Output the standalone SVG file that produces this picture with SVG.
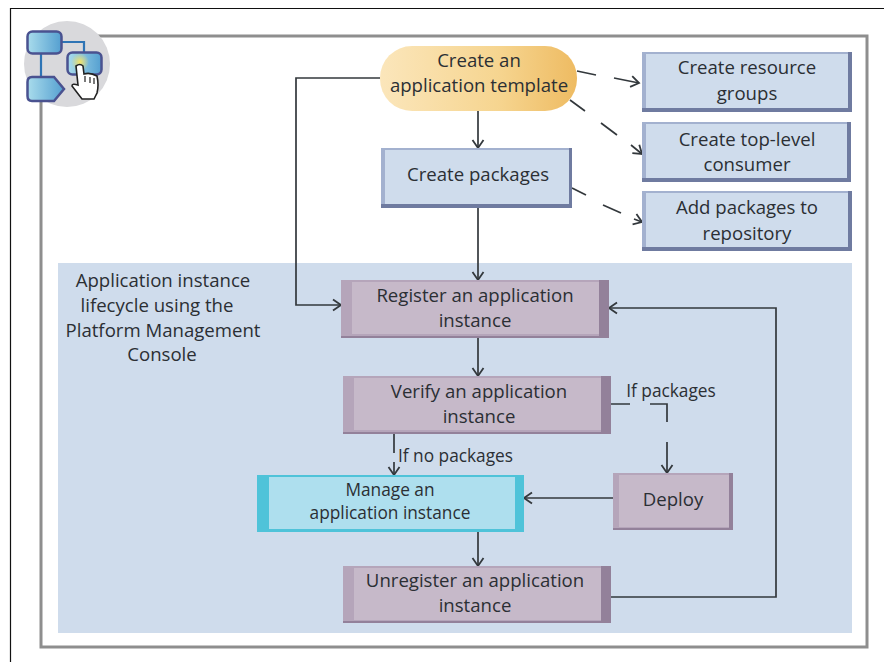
<svg xmlns="http://www.w3.org/2000/svg" width="884" height="662" viewBox="0 0 884 662">
<defs>
<style>
text{font-family:"Open Sans","Noto Sans","Liberation Sans",sans-serif;font-size:18.6px;fill:#2b2f34;text-anchor:middle}
.small{font-size:17.3px}
.c{fill:none;stroke:#33383c;stroke-width:1.7}
.blue{fill:#cfdcec}.be{fill:#6f7ba0}.bl{fill:#a3b1cf}
.pur{fill:#c6b9c9}.pe{fill:#93819a}.pl{fill:#b5a5ba}
.ic{stroke:#4a5290;stroke-width:2.5}
</style>
<linearGradient id="pill" x1="0" x2="1" y1="0" y2="0"><stop offset="0" stop-color="#fbe6bb"/><stop offset="0.6" stop-color="#f6d590"/><stop offset="1" stop-color="#eebb62"/></linearGradient>
<linearGradient id="ib" x1="0" x2="1" y1="0" y2="0"><stop offset="0" stop-color="#a9dcec"/><stop offset="1" stop-color="#549fd0"/></linearGradient>
<radialGradient id="glow"><stop offset="0" stop-color="#f3e36a"/><stop offset="1" stop-color="#f3e36a" stop-opacity="0"/></radialGradient>
<marker id="a" markerWidth="14" markerHeight="14" refX="11" refY="7" orient="auto" markerUnits="userSpaceOnUse"><path d="M3 1.500 L11 7 L3 12.500" fill="none" stroke="#33383c" stroke-width="1.800"/></marker>
</defs>
<rect width="884" height="662" fill="#fff"/>
<path d="M10.500 662V8.500H884" fill="none" stroke="#111" stroke-width="1.200"/>
<rect x="41" y="36" width="826" height="611" fill="#fff" stroke="#8e8e8e" stroke-width="3"/>
<rect x="58" y="263" width="794" height="370" fill="#cfdcec"/>
<g id="icon">
<circle cx="67" cy="64" r="43" fill="#d9d9dc"/>
<path d="M41 40V90M55 42H84V60" fill="none" stroke="#2e74b5" stroke-width="2.200"/>
<rect class="ic" x="27.500" y="31.500" width="34" height="22" rx="5" fill="url(#ib)"/>
<rect class="ic" x="67.500" y="52.500" width="34" height="22" rx="5" fill="url(#ib)"/>
<circle cx="80" cy="62" r="9" fill="url(#glow)"/>
<path class="ic" d="M32 77H54L64 89L54 101H32Q27.500 101 27.500 96V82Q27.500 77 32 77Z" fill="url(#ib)"/>
<path d="M76 66Q80 63 83 66L84 74Q90 72 97 76Q99 85 97 93L94 99H82L72 86Q72 83 78 85Z" fill="#fff" stroke="#222" stroke-width="1.600"/>
<path d="M85 76V82M90 77V83M94 78V84" stroke="#222" stroke-width="1.200"/>
</g>
<g id="connectors">
<path class="c" d="M380 78H296V305H341" marker-end="url(#a)"/>
<path class="c" d="M478 111V148" marker-end="url(#a)"/>
<path class="c" d="M478 208V280" marker-end="url(#a)"/>
<path class="c" d="M478 338V376" marker-end="url(#a)"/>
<path class="c" d="M577 71L596 75M614 78L639 83" marker-end="url(#a)"/>
<path class="c" d="M570 100L585 111M601 123L617 135M631 145L642 154" marker-end="url(#a)"/>
<path class="c" d="M572 188L586 195M603 205L621 213M634 219L642 222" marker-end="url(#a)"/>
<path class="c" d="M611 404H630M650 404H667V422M667 442V473" marker-end="url(#a)"/>
<path class="c" d="M394 433V453M394 462V475" marker-end="url(#a)"/>
<path class="c" d="M613 498H524" marker-end="url(#a)"/>
<path class="c" d="M478 532V566" marker-end="url(#a)"/>
<path class="c" d="M611 597H776V308H609" marker-end="url(#a)"/>
</g>
<g id="n-template"><rect x="380" y="46" width="197" height="65" rx="32" fill="url(#pill)"/><text x="479" y="67">Create an</text><text x="479" y="92">application template</text></g>
<g id="n-packages"><rect class="be" x="381" y="148" width="191" height="60"/><rect class="bl" x="381" y="148" width="188" height="56"/><rect class="blue" x="385" y="150" width="184" height="54"/><text x="478" y="181">Create packages</text></g>
<g id="n-resource"><rect class="be" x="642" y="52" width="210" height="60"/><rect class="bl" x="642" y="52" width="206" height="56"/><rect class="blue" x="646" y="54" width="202" height="54"/><text x="747" y="74">Create resource</text><text x="747" y="100">groups</text></g>
<g id="n-consumer"><rect class="be" x="642" y="122" width="209" height="60"/><rect class="bl" x="642" y="122" width="205" height="56"/><rect class="blue" x="646" y="124" width="201" height="54"/><text x="747" y="146">Create top-level</text><text x="747" y="171">consumer</text></g>
<g id="n-repository"><rect class="be" x="642" y="191" width="210" height="60"/><rect class="bl" x="642" y="191" width="206" height="56"/><rect class="blue" x="646" y="193" width="202" height="54"/><text x="747" y="214">Add packages to</text><text x="747" y="240">repository</text></g>
<g id="lifecycle-label"><text x="163" y="287">Application instance</text><text x="157" y="312">lifecycle using the</text><text x="163" y="337">Platform Management</text><text x="162" y="361">Console</text></g>
<g id="n-register"><rect class="pe" x="341" y="280" width="268" height="58"/><rect class="pl" x="341" y="280" width="258" height="56"/><rect class="pur" x="352" y="282" width="247" height="52"/><text x="475" y="302">Register an application</text><text x="475" y="327">instance</text></g>
<g id="n-verify"><rect class="pe" x="343" y="376" width="268" height="58"/><rect class="pl" x="343" y="376" width="258" height="56"/><rect class="pur" x="354" y="378" width="247" height="52"/><text x="479" y="398">Verify an application</text><text x="479" y="423">instance</text></g>
<g id="n-manage"><rect x="257" y="475" width="267" height="57" fill="#4fc3d9"/><rect x="269" y="477" width="246" height="52" fill="#aedfee"/><text x="390" y="496" class="small">Manage an</text><text x="390" y="519" class="small">application instance</text></g>
<g id="n-deploy"><rect class="pe" x="613" y="473" width="120" height="57"/><rect class="pl" x="613" y="473" width="116" height="55"/><rect class="pur" x="619" y="475" width="110" height="52"/><text x="673" y="506">Deploy</text></g>
<g id="n-unregister"><rect class="pe" x="343" y="566" width="268" height="57"/><rect class="pl" x="343" y="566" width="258" height="55"/><rect class="pur" x="354" y="568" width="247" height="52"/><text x="475" y="587">Unregister an application</text><text x="475" y="612">instance</text></g>
<g id="branch-labels"><text x="671" y="397" class="small">If packages</text><text x="455.500" y="462" class="small">If no packages</text></g>
</svg>
